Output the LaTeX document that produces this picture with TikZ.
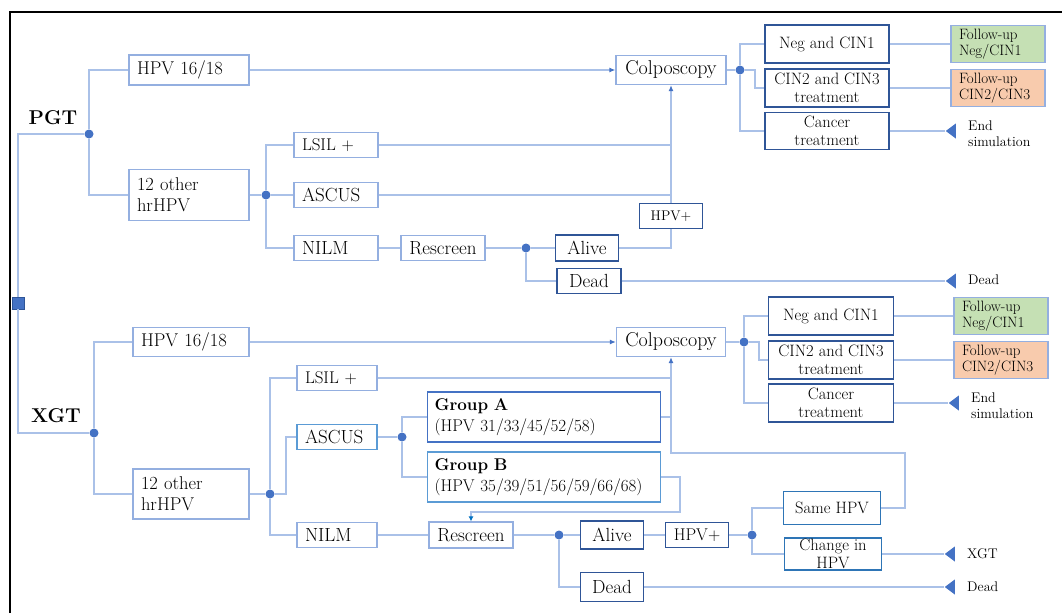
\documentclass[tikz,border=0pt]{standalone}
\usetikzlibrary{shapes.geometric,arrows.meta}

\definecolor{wireblue}{RGB}{170,193,232}
\definecolor{boxblue}{RGB}{148,175,224}
\definecolor{dotblue}{RGB}{68,114,196}
\definecolor{navy}{RGB}{47,85,151}
\definecolor{grpblue}{RGB}{91,155,213}
\definecolor{hpvblue}{RGB}{46,117,182}
\definecolor{tipblue}{RGB}{0,112,192}
\definecolor{fupgreen}{RGB}{197,224,180}
\definecolor{fupred}{RGB}{248,203,173}

\tikzset{
  wire/.style={draw=wireblue, line width=1.2pt},
  into/.style={-{Latex[length=6pt,width=5pt,color=dotblue]}},
  intoback/.style={-{Latex[length=5pt,width=5pt,color=tipblue]}},
  cbox/.style 2 args={draw=boxblue, line width=1.2pt, minimum width=#1, minimum height=#2,
    inner sep=0pt, align=center, font=\fontsize{19}{21}\selectfont},
  lbox/.style 2 args={cbox={0}{#2}, text width=#1, inner xsep=8pt, align=left},
  dbox/.style 2 args={cbox={#1}{#2}, draw=navy, line width=1.4pt},
  bigtext/.style={font=\fontsize{20}{22}\selectfont},
  hpvtext/.style={font=\fontsize{18.5}{21}\selectfont},
  lsiltext/.style={font=\fontsize{17}{20}\selectfont},
  midtext/.style={font=\fontsize{16.5}{18}\selectfont},
  smalltext/.style={font=\fontsize{15}{16}\selectfont},
  fupbox/.style={lbox={78pt}{37}, smalltext},
  junction/.style={circle, fill=dotblue, inner sep=0pt, minimum size=9pt},
  stopmark/.style={isosceles triangle, isosceles triangle stretches, shape border rotate=180,
    fill=dotblue, inner sep=0pt, minimum width=15pt, minimum height=10pt},
  rootmark/.style={rectangle, fill=dotblue, draw=navy, line width=0.8pt, minimum size=12pt, inner sep=0pt},
  sidelbl/.style={anchor=west, inner sep=0pt, align=left, font=\fontsize{14}{16}\selectfont},
  armlbl/.style={font=\bfseries\fontsize{20}{22}\selectfont},
}

\begin{document}
\begin{tikzpicture}[x=1pt, y=-1pt]
  \useasboundingbox (0,0) rectangle (1062,613);
  \draw[line width=2pt] (10,613) -- (10,12) -- (1062,12);

  % PGT arm
  \draw
    (18,303) node[rootmark](root){}
    (53,118) node[armlbl](pgt){PGT}
    (89,134) node[junction](pgtD){}
    (189,70) node[lbox={104pt}{30}, hpvtext](hpvP){HPV 16/18}
    (189,195) node[lbox={104pt}{51}, hpvtext](othP){12 other\\hrHPV}
    (266,195) node[junction](othPD){}
    (336,145) node[lbox={68pt}{25}, lsiltext](lsilP){LSIL +}
    (336,195) node[lbox={68pt}{25}](ascP){ASCUS}
    (336,248) node[lbox={68pt}{25}](nilmP){NILM}
    (443,248) node[cbox={84}{25}](resP){Rescreen}
    (526,248) node[junction](resPD){}
    (587,248) node[dbox={63}{26}](aliveP){Alive}
    (589,281) node[dbox={64}{25}](deadP){Dead}
    (671,216) node[dbox={63}{25}, font=\fontsize{14}{16}\selectfont](hposP){HPV+}
    (671,70) node[cbox={110}{29}, bigtext](colP){Colposcopy}
    (740,70) node[junction](colPD){}
    (827,44) node[dbox={124}{38}, midtext](negP){Neg and CIN1}
    (827,88) node[dbox={124}{38}, midtext](cinP){CIN2 and CIN3\\treatment}
    (827,131) node[dbox={124}{37}, midtext](canP){Cancer\\treatment}
    (998,44) node[fupbox, fill=fupgreen](fnegP){Follow-up\\Neg/CIN1}
    (998,88) node[fupbox, fill=fupred](fcinP){Follow-up\\CIN2/CIN3}
    (952,131) node[stopmark](endP){}
    (968,134) node[sidelbl](endPl){End\\simulation}
    (952,281) node[stopmark](deadPm){}
    (968,280) node[sidelbl](deadPl){Dead};

  \draw[wire] (root.north) |- (pgtD);
  \draw[wire] (pgtD) |- (hpvP.west);
  \draw[wire] (pgtD) |- (othP.west);
  \draw[wire] (othP) -- (othPD);
  \draw[wire] (othPD) |- (lsilP.west);
  \draw[wire] (othPD) -- (ascP);
  \draw[wire] (othPD) |- (nilmP.west);
  \draw[wire] (nilmP) -- (resP);
  \draw[wire] (resP) -- (resPD) -- (aliveP);
  \draw[wire] (resPD) |- (deadP.west);
  \draw[wire] (aliveP.east) -| (hposP.south);
  \draw[wire, into] (hpvP) -- (colP);
  \draw[wire, into] (hposP) -- (colP);
  \draw[wire] (lsilP.east) -- (lsilP.east -| colP.south);
  \draw[wire] (ascP.east) -- (ascP.east -| colP.south);
  \draw[wire] (colP) -- (colPD);
  \draw[wire] (colPD) |- (negP.west);
  \draw[wire] (colPD) -- ++(15,0) |- (cinP.west);
  \draw[wire] (colPD) |- (canP.west);
  \draw[wire] (negP) -- (fnegP);
  \draw[wire] (cinP) -- (fcinP);
  \draw[wire] (canP) -- (endP.west);
  \draw[wire] (deadP) -- (deadPm.west);

  % XGT arm
  \draw
    (56,416) node[armlbl](xgt){XGT}
    (94,433) node[junction](xgtD){}
    (191,342) node[lbox={100pt}{29}, hpvtext](hpvX){HPV 16/18}
    (191,494) node[lbox={100pt}{50}, hpvtext](othX){12 other\\hrHPV}
    (270,494) node[junction](othXD){}
    (337,378) node[lbox={64pt}{25}, lsiltext](lsilX){LSIL +}
    (337,437) node[lbox={64pt}{25}, draw=grpblue](ascX){ASCUS}
    (337,535) node[lbox={64pt}{25}](nilmX){NILM}
    (402,437) node[junction](ascXD){}
    (544,417) node[lbox={219pt}{50}, inner xsep=7pt, draw=dotblue,
      font=\fontsize{17}{21}\selectfont](grpA){\textbf{Group A}\\(HPV 31/33/45/52/58)}
    (544,477) node[lbox={219pt}{50}, inner xsep=7pt, draw=grpblue,
      font=\fontsize{17}{21}\selectfont](grpB){\textbf{Group B}\\(HPV 35/39/51/56/59/66/68)}
    (471,535) node[cbox={84}{26}](resX){Rescreen}
    (559,535) node[junction](resXD){}
    (612,535) node[dbox={63}{28}](aliveX){Alive}
    (612,587) node[dbox={63}{29}](deadX){Dead}
    (697,535) node[dbox={63}{25}, font=\fontsize{17}{19}\selectfont](hposX){HPV+}
    (752,535) node[junction](hposXD){}
    (832,508) node[cbox={97}{33}, draw=hpvblue, midtext](sameX){Same HPV}
    (833,554) node[cbox={97}{32}, draw=hpvblue, midtext](chgX){Change in\\HPV}
    (671,342) node[cbox={109}{29}, bigtext](colX){Colposcopy}
    (744,342) node[junction](colXD){}
    (831,316) node[dbox={125}{38}, midtext](negX){Neg and CIN1}
    (831,360) node[dbox={125}{38}, midtext](cinX){CIN2 and CIN3\\treatment}
    (831,403) node[dbox={125}{38}, midtext](canX){Cancer\\treatment}
    (1001,316) node[fupbox, fill=fupgreen](fnegX){Follow-up\\Neg/CIN1}
    (1001,360) node[fupbox, fill=fupred](fcinX){Follow-up\\CIN2/CIN3}
    (955,403) node[stopmark](endX){}
    (971,406) node[sidelbl](endXl){End\\simulation}
    (951,554) node[stopmark](xgtXm){}
    (967,554) node[sidelbl](xgtXl){XGT}
    (951,587) node[stopmark](deadXm){}
    (967,587) node[sidelbl](deadXl){Dead};
  \coordinate (backX) at (905,453);
  \coordinate (retX) at (680,512);

  \draw[wire] (root.south) |- (xgtD);
  \draw[wire] (xgtD) |- (hpvX.west);
  \draw[wire] (xgtD) |- (othX.west);
  \draw[wire] (othX) -- (othXD);
  \draw[wire] (othXD) |- (lsilX.west);
  \draw[wire] (othXD) -- ++(16,0) |- (ascX.west);
  \draw[wire] (othXD) |- (nilmX.west);
  \draw[wire] (ascX) -- (ascXD);
  \draw[wire] (ascXD) |- (grpA.west);
  \draw[wire] (ascXD) |- (grpB.west);
  \draw[wire, into] (hpvX) -- (colX);
  \draw[wire] (lsilX.east) -- (lsilX.east -| colX.south);
  \draw[wire] (grpA.east) -- (grpA.east -| colX.south);
  \draw[wire, into] (sameX.east) -| (backX) -| (colX.south);
  \draw[wire, intoback] (grpB.east) -| (retX) -| (resX.north);
  \draw[wire] (nilmX) -- (resX);
  \draw[wire] (resX) -- (resXD) -- (aliveX) -- (hposX) -- (hposXD);
  \draw[wire] (resXD) |- (deadX.west);
  \draw[wire] (hposXD) |- (sameX.west);
  \draw[wire] (hposXD) |- (chgX.west);
  \draw[wire] (colX) -- (colXD);
  \draw[wire] (colXD) |- (negX.west);
  \draw[wire] (colXD) -- ++(15,0) |- (cinX.west);
  \draw[wire] (colXD) |- (canX.west);
  \draw[wire] (negX) -- (fnegX);
  \draw[wire] (cinX) -- (fcinX);
  \draw[wire] (canX) -- (endX.west);
  \draw[wire] (chgX) -- (xgtXm.west);
  \draw[wire] (deadX) -- (deadXm.west);
\end{tikzpicture}
\end{document}
